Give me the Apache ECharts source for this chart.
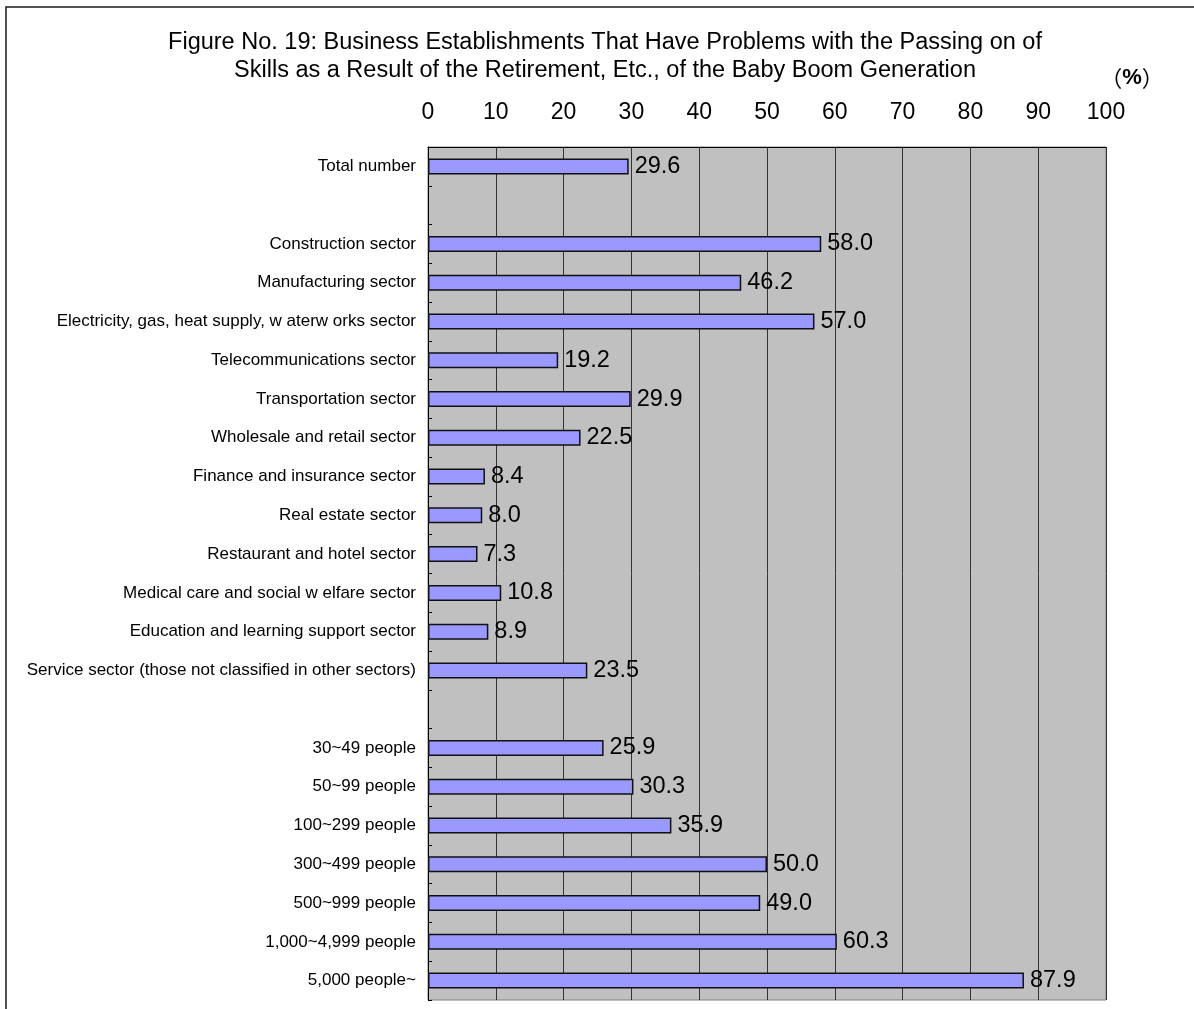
<!DOCTYPE html>
<html>
<head>
<meta charset="utf-8">
<script src="https://cdn.jsdelivr.net/npm/echarts@6/dist/echarts.min.js"></script>
<style>
  html, body { margin: 0; padding: 0; background: #ffffff; }
  #chart { width: 1194px; height: 1009px; }
</style>
</head>
<body>
<div id="chart"></div>
<script>
// Row labels (blank rows separate the total, the industry group and the size group)
const categories = [
  'Total number',
  ' ',
  'Construction sector',
  'Manufacturing sector',
  'Electricity, gas, heat supply, w aterw orks sector',
  'Telecommunications sector',
  'Transportation sector',
  'Wholesale and retail sector',
  'Finance and insurance sector',
  'Real estate sector',
  'Restaurant and hotel sector',
  'Medical care and social w elfare sector',
  'Education and learning support sector',
  'Service sector (those not classified in other sectors)',
  '  ',
  '30~49 people',
  '50~99 people',
  '100~299 people',
  '300~499 people',
  '500~999 people',
  '1,000~4,999 people',
  '5,000 people~'
];

// Share of establishments with skill-transfer problems (%)
const values = [
  29.6,
  null,
  58.0, 46.2, 57.0, 19.2, 29.9, 22.5, 8.4, 8.0, 7.3, 10.8, 8.9, 23.5,
  null,
  25.9, 30.3, 35.9, 50.0, 49.0, 60.3, 87.9
];

// Percentage scale along the top
const xTicks = [0, 10, 20, 30, 40, 50, 60, 70, 80, 90, 100];

const titleLines = [
  'Figure No. 19: Business Establishments That Have Problems with the Passing on of',
  'Skills as a Result of the Retirement, Etc., of the Baby Boom Generation'
];

const FONT = "'Liberation Sans', Arial, sans-serif";

const chart = echarts.init(document.getElementById('chart'), null, { renderer: 'canvas' });

chart.setOption({
  backgroundColor: '#ffffff',
  animation: false,
  textStyle: { fontFamily: FONT, color: '#000' },
  grid: {
    left: 428,
    top: 147,
    width: 678,
    height: 853,
    show: true,
    backgroundColor: '#c0c0c0',
    borderColor: '#808080',
    borderWidth: 1
  },
  xAxis: {
    type: 'value',
    position: 'top',
    min: xTicks[0],
    max: xTicks[xTicks.length - 1],
    interval: xTicks[1] - xTicks[0],
    axisLine: { show: true, lineStyle: { color: '#000', width: 1 } },
    axisTick: { show: false },
    splitLine: { show: true, lineStyle: { color: '#333333', width: 1 } },
    axisLabel: { fontSize: 23, color: '#000', fontFamily: FONT, margin: 23 }
  },
  yAxis: {
    type: 'category',
    inverse: true,
    data: categories,
    axisLine: { show: true, lineStyle: { color: '#000', width: 1 } },
    axisTick: { show: true, inside: true, length: 4, interval: 0, lineStyle: { color: '#000' } },
    axisLabel: { interval: 0, fontSize: 17, color: '#000', fontFamily: FONT, margin: 12 },
    splitLine: { show: false }
  },
  series: [{
    type: 'bar',
    data: values,
    barWidth: 16,
    itemStyle: { color: '#9999ff', borderColor: '#111', borderWidth: 1.5 },
    label: {
      show: true,
      position: 'right',
      distance: 6,
      fontSize: 23.5,
      color: '#000',
      fontFamily: FONT,
      formatter: p => (p.value == null ? '' : Number(p.value).toFixed(1))
    }
  }],
  graphic: [
    {
      type: 'rect',
      silent: true,
      shape: { x: 6, y: 7, width: 1400, height: 1200 },
      style: { fill: 'none', stroke: '#1a1a1a', lineWidth: 1.5 }
    },
    {
      type: 'text',
      x: 605, y: 43,
      style: { text: titleLines[0], font: "23.5px " + FONT, fill: '#000', align: 'center', verticalAlign: 'middle' }
    },
    {
      type: 'text',
      x: 605, y: 71,
      style: { text: titleLines[1], font: "23.5px " + FONT, fill: '#000', align: 'center', verticalAlign: 'middle' }
    },
    {
      type: 'text',
      x: 1132, y: 78,
      style: {
        text: '{p|（}{b|%}{p|）}',
        align: 'center',
        verticalAlign: 'middle',
        rich: {
          p: { fontSize: 22, fontFamily: "'Noto Sans CJK JP', sans-serif", fill: '#000' },
          b: { fontSize: 22, fontFamily: FONT, fontWeight: 'bold', fill: '#000' }
        }
      }
    }
  ]
});
</script>
</body>
</html>
